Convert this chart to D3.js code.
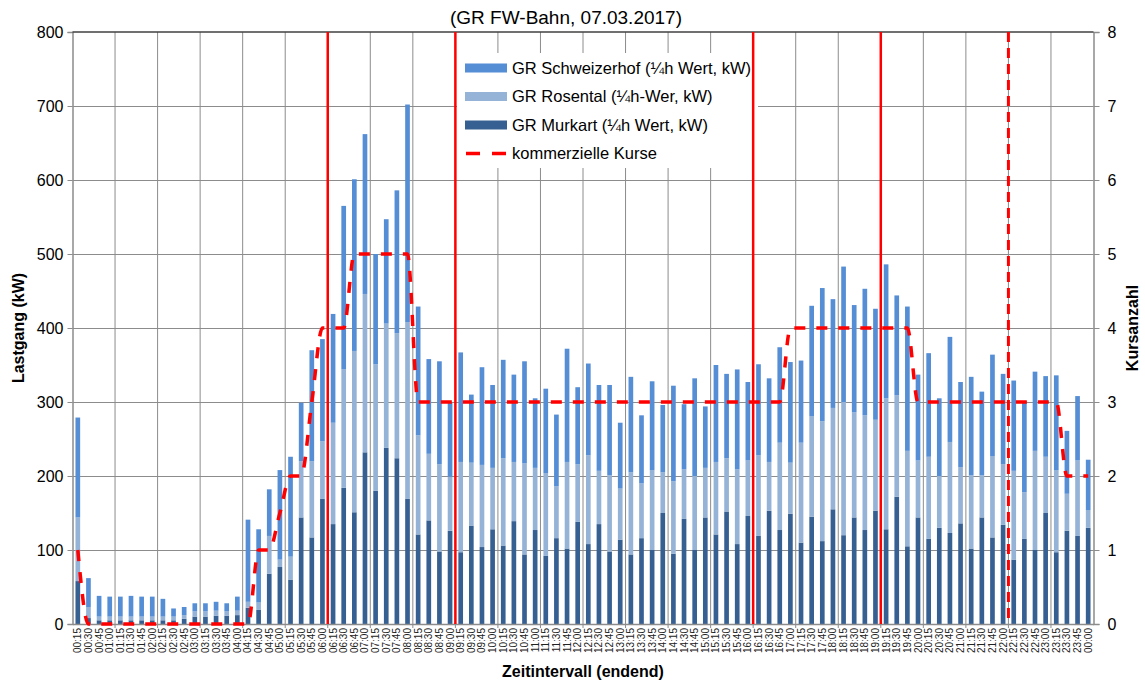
<!DOCTYPE html>
<html>
<head>
<meta charset="utf-8">
<script src="https://cdn.jsdelivr.net/npm/d3@7"></script>
<style>
    body { margin: 0; background: #fff; }
    svg text { font-family: Arial, "Liberation Sans", sans-serif; fill: #000; }
</style>
</head>
<body>
<svg id="chart"></svg>
<script>
// quarter-hour intervals (end of interval)
const times = [
    "00:15","00:30","00:45","01:00","01:15","01:30","01:45","02:00",
    "02:15","02:30","02:45","03:00","03:15","03:30","03:45","04:00",
    "04:15","04:30","04:45","05:00","05:15","05:30","05:45","06:00",
    "06:15","06:30","06:45","07:00","07:15","07:30","07:45","08:00",
    "08:15","08:30","08:45","09:00","09:15","09:30","09:45","10:00",
    "10:15","10:30","10:45","11:00","11:15","11:30","11:45","12:00",
    "12:15","12:30","12:45","13:00","13:15","13:30","13:45","14:00",
    "14:15","14:30","14:45","15:00","15:15","15:30","15:45","16:00",
    "16:15","16:30","16:45","17:00","17:15","17:30","17:45","18:00",
    "18:15","18:30","18:45","19:00","19:15","19:30","19:45","20:00",
    "20:15","20:30","20:45","21:00","21:15","21:30","21:45","22:00",
    "22:15","22:30","22:45","23:00","23:15","23:30","23:45","00:00"
];

// GR Murkart (kW)
const murkart = [
    58, 8, 5, 5, 5, 5, 5, 5, 5, 5, 7, 10, 10, 11, 11, 12,
    22, 19, 68, 77, 60, 144, 117, 169, 135, 184, 151, 232, 180, 238, 224, 169,
    121, 140, 98, 126, 97, 133, 104, 128, 106, 139, 94, 127, 92, 116, 102, 138,
    108, 135, 98, 114, 94, 116, 100, 150, 95, 142, 100, 144, 121, 152, 108, 146,
    119, 153, 127, 149, 110, 145, 112, 155, 120, 144, 127, 153, 128, 172, 105, 144,
    115, 130, 123, 136, 102, 144, 117, 134, 87, 115, 100, 150, 97, 126, 119, 130
];

// GR Rosental (kW)
const rosental = [
    86, 15, 5, 5, 5, 5, 5, 5, 5, 5, 5, 7, 7, 7, 6, 6,
    8, 10, 51, 10, 31, 76, 103, 78, 137, 160, 218, 214, 171, 168, 169, 239,
    134, 90, 118, 73, 122, 85, 111, 83, 118, 80, 123, 84, 112, 70, 117, 78,
    120, 72, 103, 69, 111, 74, 108, 55, 98, 67, 100, 67, 98, 72, 101, 75,
    109, 66, 118, 69, 135, 136, 162, 137, 180, 142, 155, 123, 177, 137, 129, 77,
    111, 70, 123, 76, 99, 57, 110, 82, 120, 63, 134, 76, 111, 50, 102, 24
];

// GR Schweizerhof (kW)
const schweizerhof = [
    135, 39, 28, 27, 27, 28, 27, 27, 24, 11, 11, 11, 11, 12, 11, 19,
    111, 99, 63, 121, 135, 79, 150, 138, 147, 221, 232, 216, 149, 141, 193, 294,
    174, 128, 139, 100, 148, 92, 132, 112, 133, 118, 138, 94, 114, 97, 153, 104,
    124, 116, 122, 89, 129, 92, 120, 91, 129, 88, 132, 83, 131, 114, 135, 106,
    123, 113, 129, 136, 111, 149, 180, 147, 183, 145, 171, 150, 181, 135, 195, 116,
    140, 105, 142, 115, 133, 113, 137, 122, 122, 123, 107, 109, 128, 85, 87, 68
];

// kommerzielle Kurse (right axis)
const kurse = [
    1, 0, 0, 0, 0, 0, 0, 0, 0, 0, 0, 0, 0, 0, 0, 0,
    0, 1, 1, 1.5, 2, 2, 3, 4, 4, 4, 5, 5, 5, 5, 5, 5,
    3, 3, 3, 3, 3, 3, 3, 3, 3, 3, 3, 3, 3, 3, 3, 3,
    3, 3, 3, 3, 3, 3, 3, 3, 3, 3, 3, 3, 3, 3, 3, 3,
    3, 3, 3, 4, 4, 4, 4, 4, 4, 4, 4, 4, 4, 4, 4, 3,
    3, 3, 3, 3, 3, 3, 3, 3, 3, 3, 3, 3, 3, 2, 2, 2
];

const leftTicks = [0, 100, 200, 300, 400, 500, 600, 700, 800];
const rightTicks = [0, 1, 2, 3, 4, 5, 6, 7, 8];
const solidMarks = ["06:00", "09:00", "16:00", "19:00"];
const dashedMarks = ["22:00"];

const seriesKeys = ["murkart", "rosental", "schweizerhof"];
const seriesColors = { murkart: "#376092", rosental: "#95b3d7", schweizerhof: "#558ed5" };
const legendItems = [
    { key: "schweizerhof", label: "GR Schweizerhof (¼h Wert, kW)" },
    { key: "rosental", label: "GR Rosental (¼h-Wer, kW)" },
    { key: "murkart", label: "GR Murkart (¼h Wert, kW)" },
    { key: "kurse", label: "kommerzielle Kurse" }
];

const W = 1145, H = 680;
const plot = { left: 72.5, right: 1093.5, top: 32, bottom: 624 };

const svg = d3.select("#chart").attr("width", W).attr("height", H);

const table = times.map((t, i) => ({
    time: t, murkart: murkart[i], rosental: rosental[i], schweizerhof: schweizerhof[i], kurse: kurse[i]
}));

// scales
const x = d3.scaleBand().domain(times).range([plot.left, plot.right]).padding(0);
const y = d3.scaleLinear().domain([0, 800]).range([plot.bottom, plot.top]);
const y2 = d3.scaleLinear().domain([0, 8]).range([plot.bottom, plot.top]);
const bw = x.bandwidth();

// horizontal gridlines
svg.append("g")
    .selectAll("line")
    .data(leftTicks.filter(d => d > 0 && d < 800))
    .join("line")
    .attr("x1", plot.left).attr("x2", plot.right)
    .attr("y1", d => Math.round(y(d)) + 0.5).attr("y2", d => Math.round(y(d)) + 0.5)
    .style("stroke", "#8c8c8c").style("stroke-width", 1);

// vertical gridlines after each full hour
const hourEnds = times.filter(t => t.endsWith(":00")).slice(0, -1);
svg.append("g")
    .selectAll("line")
    .data(hourEnds)
    .join("line")
    .attr("x1", d => x(d) + bw).attr("x2", d => x(d) + bw)
    .attr("y1", plot.top).attr("y2", plot.bottom + 4)
    .style("stroke", "#8c8c8c").style("stroke-width", 1);

// stacked bars
const stacked = d3.stack().keys(seriesKeys)(table);
const barW = bw * 0.44;
svg.append("g")
    .selectAll("g")
    .data(stacked)
    .join("g")
    .style("fill", d => seriesColors[d.key])
    .selectAll("rect")
    .data(d => d)
    .join("rect")
    .attr("x", d => x(d.data.time) + (bw - barW) / 2)
    .attr("width", barW)
    .attr("y", d => y(d[1]))
    .attr("height", d => y(d[0]) - y(d[1]));

// axes
const leftAxis = svg.append("g")
    .attr("transform", `translate(${plot.left},0)`)
    .call(d3.axisLeft(y).tickValues(leftTicks).tickSize(5).tickPadding(4));
const rightAxis = svg.append("g")
    .attr("transform", `translate(${plot.right},0)`)
    .call(d3.axisRight(y2).tickValues(rightTicks).tickSize(6).tickPadding(8));
[leftAxis, rightAxis].forEach(a => {
    a.select(".domain").style("stroke", "#8c8c8c").style("stroke-width", 1.5);
    a.selectAll(".tick line").style("stroke", "#8c8c8c");
    a.selectAll("text").style("font-size", "16px");
});

const bottomAxis = svg.append("g")
    .attr("transform", `translate(0,${plot.bottom})`)
    .call(d3.axisBottom(x).tickSize(0).tickPadding(0));
bottomAxis.select(".domain").style("stroke", "#8c8c8c").style("stroke-width", 1.5);
bottomAxis.selectAll("text")
    .style("font-size", "10px")
    .style("fill", "#222")
    .attr("text-anchor", "end")
    .attr("transform", "rotate(-90)")
    .attr("x", -4)
    .attr("y", 0)
    .attr("dy", "0.35em");

// top border
svg.append("line")
    .attr("x1", plot.left).attr("x2", plot.right)
    .attr("y1", plot.top).attr("y2", plot.top)
    .style("stroke", "#404040").style("stroke-width", 1.5);

// legend
const legend = svg.append("g");
legend.append("rect")
    .attr("x", 457).attr("y", 53).attr("width", 301).attr("height", 115)
    .style("fill", "#fff");
legendItems.forEach((item, i) => {
    const ly = 68 + i * 28.5;
    if (item.key === "kurse") {
        legend.append("line")
            .attr("x1", 466).attr("x2", 506).attr("y1", ly).attr("y2", ly)
            .style("stroke", "#ff0000").style("stroke-width", 3.5)
            .style("stroke-dasharray", "14,12");
    } else {
        legend.append("rect")
            .attr("x", 465).attr("y", ly - 4.5).attr("width", 42).attr("height", 9)
            .style("fill", seriesColors[item.key]);
    }
    legend.append("text")
        .attr("x", 512).attr("y", ly).attr("dy", "0.36em")
        .style("font-size", "16.5px")
        .text(item.label);
});

// red markers
svg.append("g")
    .selectAll("line")
    .data(solidMarks)
    .join("line")
    .attr("x1", d => x(d) + bw).attr("x2", d => x(d) + bw)
    .attr("y1", plot.top).attr("y2", plot.bottom)
    .style("stroke", "#ff0000").style("stroke-width", 2.5);
svg.append("g")
    .selectAll("line")
    .data(dashedMarks)
    .join("line")
    .attr("x1", d => x(d) + bw).attr("x2", d => x(d) + bw)
    .attr("y1", plot.top).attr("y2", plot.bottom)
    .style("stroke", "#ff0000").style("stroke-width", 3)
    .style("stroke-dasharray", "10,6");

// kommerzielle Kurse line
const line = d3.line()
    .x(d => x(d.time) + bw / 2)
    .y(d => y2(d.kurse))
    .curve(d3.curveMonotoneX);
svg.append("path")
    .datum(table)
    .attr("d", line)
    .style("fill", "none")
    .style("stroke", "#ff0000")
    .style("stroke-width", 3.5)
    .style("stroke-dasharray", "11,11");

// titles
svg.append("text")
    .attr("x", 566).attr("y", 24)
    .style("text-anchor", "middle")
    .style("font-size", "19px")
    .text("(GR FW-Bahn, 07.03.2017)");

svg.append("text")
    .attr("x", (plot.left + plot.right) / 2).attr("y", 677)
    .style("text-anchor", "middle")
    .style("font-size", "16px").style("font-weight", "bold")
    .text("Zeitintervall (endend)");

svg.append("text")
    .attr("transform", "rotate(-90)")
    .attr("x", -(plot.top + plot.bottom) / 2).attr("y", 24)
    .style("text-anchor", "middle")
    .style("font-size", "16px").style("font-weight", "bold")
    .text("Lastgang (kW)");

svg.append("text")
    .attr("transform", "rotate(-90)")
    .attr("x", -(plot.top + plot.bottom) / 2).attr("y", 1138)
    .style("text-anchor", "middle")
    .style("font-size", "16px").style("font-weight", "bold")
    .text("Kursanzahl");
</script>
</body>
</html>
